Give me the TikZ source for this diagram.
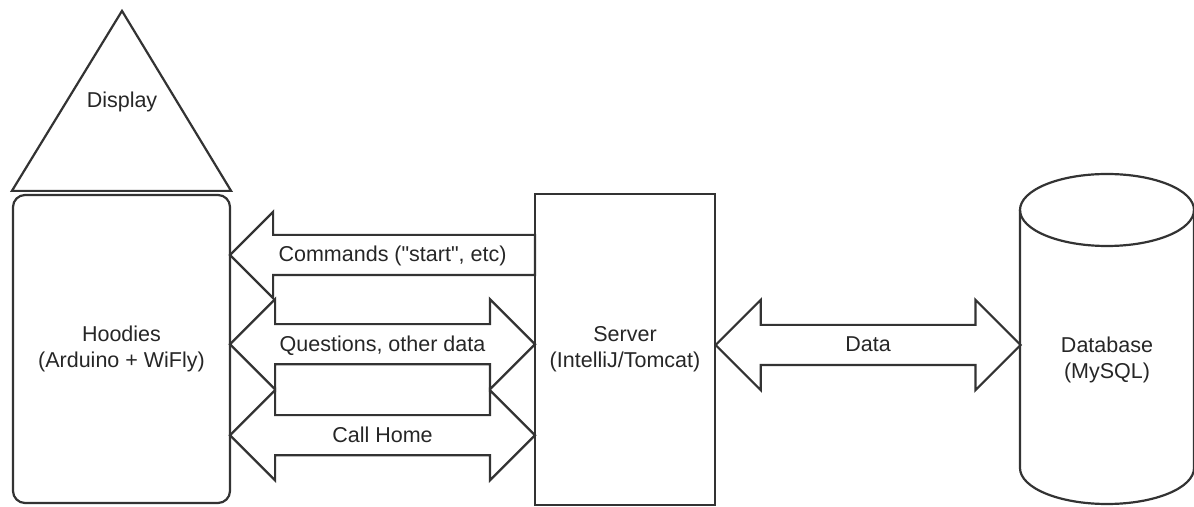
\documentclass[tikz,border=0pt]{standalone}
\usepackage{fontspec}
\setmainfont{Liberation Sans}
\usetikzlibrary{shapes.arrows,calc}

\begin{document}
\begin{tikzpicture}[x=1pt,y=1pt,line width=2.2pt,
  every node/.style={font=\fontsize{21.5}{26}\selectfont, text=black!85},
  part/.style={draw=black!80, align=center},
  sarrow/.style={draw=black!80, single arrow, shape border rotate=180,
    single arrow tip angle=90, single arrow head extend=23pt,
    minimum height=305pt, text height=22pt, text depth=8pt,
    inner xsep=2pt, inner ysep=4pt},
  darrow/.style={draw=black!80, double arrow,
    double arrow tip angle=90, double arrow head extend=25pt,
    minimum height=305pt, text height=22pt, text depth=8pt,
    inner xsep=2pt, inner ysep=4pt}]
\def\rx{87}
\def\ry{36}
\useasboundingbox (0,0) rectangle (1194,506);
\node[part, rounded corners=12pt, minimum width=217pt, minimum height=308pt] (hoodies) at (121.5,157) {Hoodies\\(Arduino + WiFly)};
\node[part, minimum width=180pt, minimum height=311pt] (server) at (625,156.5) {Server\\(IntelliJ/Tomcat)};
\draw[black!80] ([yshift=3pt]hoodies.north west) -- ([yshift=3pt]hoodies.north east) -- ($(hoodies.north)+(0.5,183)$) -- cycle;
\node (display) at ($(hoodies.north)+(0.5,92)$) {Display};
% database
\coordinate (dbtop) at (1107,296);
\coordinate (dbbot) at (1107,38);
\coordinate (dbwest) at (1020,161);
\draw[black!80] ($(dbtop)+(-\rx,0)$) -- ($(dbbot)+(-\rx,0)$) arc[start angle=180, end angle=360, x radius=\rx, y radius=\ry] -- ($(dbtop)+(\rx,0)$);
\draw[black!80] (dbtop) ellipse[x radius=\rx, y radius=\ry];
\node[align=center] (db) at (1107,146) {Database\\(MySQL)};
% links
\node[sarrow, anchor=tail] (commands) at ($(server.west)+(2.2,94.5)$) {Commands (\textquotedbl start\textquotedbl, etc)};
\node[darrow] (questions) at ($(hoodies.east)!.5!(server.west)+(0,5)$) {Questions, other data};
\node[darrow] (callhome) at ($(hoodies.east)!.5!(server.west)+(0,-86)$) {Call Home};
\node[darrow] (data) at ($(server.east |- dbwest)!.5!(dbwest)$) {Data};
\end{tikzpicture}
\end{document}
